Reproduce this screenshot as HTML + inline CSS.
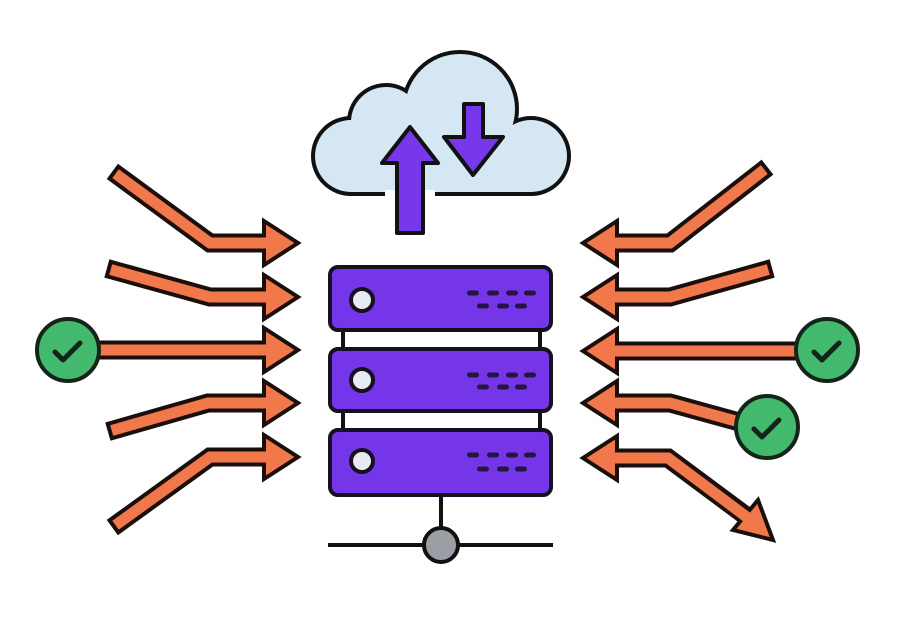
<!DOCTYPE html>
<html><head><meta charset="utf-8"><style>
html,body{margin:0;padding:0;background:#fff;}
svg{display:block;}
</style></head><body>
<svg width="920" height="618" viewBox="0 0 920 618" xmlns="http://www.w3.org/2000/svg">
<rect width="920" height="618" fill="#fff"/>

<!-- Cloud -->
<g>
  <g fill="#111" stroke="#111" stroke-width="8" stroke-linejoin="round">
    <circle cx="351" cy="156" r="36"/>
    <circle cx="386" cy="122" r="35"/>
    <circle cx="460" cy="109" r="55"/>
    <circle cx="531" cy="156" r="36"/>
    <rect x="351" y="125" width="180" height="67"/>
  </g>
  <g fill="#d5e7f3">
    <circle cx="351" cy="156" r="36"/>
    <circle cx="386" cy="122" r="35"/>
    <circle cx="460" cy="109" r="55"/>
    <circle cx="531" cy="156" r="36"/>
    <rect x="351" y="125" width="180" height="67"/>
  </g>
  <rect x="385" y="190" width="50" height="9" fill="#fff"/>
  <rect x="385" y="150" width="50" height="40" fill="#d5e7f3"/>
</g>

<!-- Up arrow -->
<polygon points="397,233 397,163 382,163 410,127 438,163 423,163 423,233" fill="#7638ea" stroke="#111" stroke-width="4" stroke-linejoin="round"/>
<!-- Down arrow -->
<polygon points="464,104 483,104 483,137 503,137 473,175 444,137 464,137" fill="#7638ea" stroke="#111" stroke-width="4" stroke-linejoin="round"/>

<!-- Server -->
<g stroke="#111" stroke-width="4">
  <line x1="343" y1="330" x2="343" y2="349"/>
  <line x1="540" y1="330" x2="540" y2="349"/>
  <line x1="343" y1="411" x2="343" y2="430"/>
  <line x1="540" y1="411" x2="540" y2="430"/>
  <line x1="441" y1="495" x2="441" y2="545"/>
  <line x1="328" y1="545" x2="553" y2="545"/>
</g>
<g fill="#7436e8" stroke="#161020" stroke-width="4">
  <rect x="330" y="267" width="221" height="63" rx="8"/>
  <rect x="330" y="349" width="221" height="62" rx="8"/>
  <rect x="330" y="430" width="221" height="65" rx="8"/>
</g>
<g fill="#e8ebf2" stroke="#161020" stroke-width="4">
  <circle cx="362" cy="300" r="11"/>
  <circle cx="362" cy="380" r="11"/>
  <circle cx="362" cy="461" r="11"/>
</g>
<circle cx="441" cy="545" r="17" fill="#9c9ea6" stroke="#111" stroke-width="4"/>
<g fill="#241640">
  <rect x="467" y="290.5" width="12" height="5" rx="2.5"/>
  <rect x="487" y="290.5" width="12" height="5" rx="2.5"/>
  <rect x="506" y="290.5" width="12" height="5" rx="2.5"/>
  <rect x="524" y="290.5" width="12" height="5" rx="2.5"/>
  <rect x="477" y="303.5" width="12" height="5" rx="2.5"/>
  <rect x="497" y="303.5" width="12" height="5" rx="2.5"/>
  <rect x="515" y="303.5" width="12" height="5" rx="2.5"/>

  <rect x="467" y="372.5" width="12" height="5" rx="2.5"/>
  <rect x="487" y="372.5" width="12" height="5" rx="2.5"/>
  <rect x="506" y="372.5" width="12" height="5" rx="2.5"/>
  <rect x="524" y="372.5" width="12" height="5" rx="2.5"/>
  <rect x="477" y="384.5" width="12" height="5" rx="2.5"/>
  <rect x="497" y="384.5" width="12" height="5" rx="2.5"/>
  <rect x="515" y="384.5" width="12" height="5" rx="2.5"/>

  <rect x="467" y="452.5" width="12" height="5" rx="2.5"/>
  <rect x="487" y="452.5" width="12" height="5" rx="2.5"/>
  <rect x="506" y="452.5" width="12" height="5" rx="2.5"/>
  <rect x="524" y="452.5" width="12" height="5" rx="2.5"/>
  <rect x="477" y="466.5" width="12" height="5" rx="2.5"/>
  <rect x="497" y="466.5" width="12" height="5" rx="2.5"/>
  <rect x="515" y="466.5" width="12" height="5" rx="2.5"/>
</g>

<!-- Arrow shafts: black outlines -->
<g fill="none" stroke="#1a0f0c" stroke-width="19" stroke-linecap="square" stroke-linejoin="miter">
  <polyline points="120,177 210,243 268,243"/>
  <polyline points="116,271 210,297 268,297"/>
  <polyline points="80,350 268,350"/>
  <polyline points="117,429 208,403 268,403"/>
  <polyline points="120,522 210,457 268,457"/>

  <polyline points="760,173 670,243 612,243"/>
  <polyline points="763,271 670,297 612,297"/>
  <polyline points="810,351 612,351"/>
  <polyline points="750,425 670,403 612,403"/>
  <polyline points="612,458 668,458 742,513"/>
</g>

<!-- Arrow heads -->
<g fill="#f0784a" stroke="#1a0f0c" stroke-width="4" stroke-linejoin="miter">
  <polygon points="264,221 298,243 264,265"/>
  <polygon points="264,275 298,297 264,319"/>
  <polygon points="264,328 298,350 264,372"/>
  <polygon points="264,381 298,403 264,425"/>
  <polygon points="264,435 298,457 264,479"/>

  <polygon points="617,221 583,243 617,265"/>
  <polygon points="617,275 583,297 617,319"/>
  <polygon points="617,329 583,351 617,373"/>
  <polygon points="617,381 583,403 617,425"/>
  <polygon points="617,436 583,458 617,480"/>

  <polygon points="758,500 773,540 733,530"/>
</g>

<!-- Arrow shafts: orange fill -->
<g fill="none" stroke="#f0784a" stroke-width="11" stroke-linecap="square" stroke-linejoin="miter">
  <polyline points="120,177 210,243 268,243"/>
  <polyline points="116,271 210,297 268,297"/>
  <polyline points="80,350 268,350"/>
  <polyline points="117,429 208,403 268,403"/>
  <polyline points="120,522 210,457 268,457"/>

  <polyline points="760,173 670,243 613,243"/>
  <polyline points="763,271 670,297 613,297"/>
  <polyline points="810,351 613,351"/>
  <polyline points="750,425 670,403 613,403"/>
  <polyline points="613,458 668,458 744,515"/>
</g>

<!-- Green check circles -->
<g fill="#43b96e" stroke="#15241a" stroke-width="4">
  <circle cx="68" cy="350" r="31"/>
  <circle cx="827" cy="350" r="31"/>
  <circle cx="767" cy="427" r="31"/>
</g>
<g fill="none" stroke="#15241a" stroke-width="5" stroke-linecap="round" stroke-linejoin="round">
  <polyline points="55,352 63,360 80,343"/>
  <polyline points="814,352 822,360 839,343"/>
  <polyline points="754,429 762,437 779,420"/>
</g>
</svg>
</body></html>
